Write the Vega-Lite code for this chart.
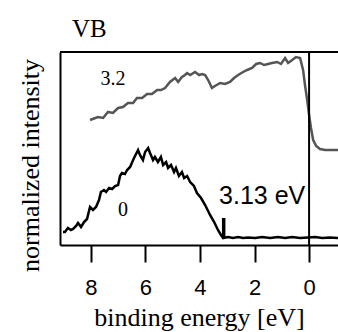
{
  "$schema": "https://vega.github.io/schema/vega-lite/v6.json",
  "width": 278,
  "height": 193,
  "autosize": {"type": "none"},
  "padding": {"left": 60, "top": 52, "right": 0, "bottom": 87},
  "background": "white",
  "config": {"view": {"stroke": null}},
  "title": {"text": "VB", "anchor": "start", "frame": "group", "dx": 12, "offset": 9, "font": "Liberation Serif", "fontSize": 25, "fontWeight": "normal", "color": "black"},
  "datasets": {
    "spectra": [
      {"series": "3.2", "energy": 8.03, "intensity": 1.25},
      {"series": "3.2", "energy": 7.74, "intensity": 1.28},
      {"series": "3.2", "energy": 7.55, "intensity": 1.27},
      {"series": "3.2", "energy": 7.37, "intensity": 1.33},
      {"series": "3.2", "energy": 7.19, "intensity": 1.32},
      {"series": "3.2", "energy": 7.0, "intensity": 1.37},
      {"series": "3.2", "energy": 6.82, "intensity": 1.38},
      {"series": "3.2", "energy": 6.64, "intensity": 1.42},
      {"series": "3.2", "energy": 6.45, "intensity": 1.42},
      {"series": "3.2", "energy": 6.31, "intensity": 1.47},
      {"series": "3.2", "energy": 6.12, "intensity": 1.47},
      {"series": "3.2", "energy": 5.94, "intensity": 1.51},
      {"series": "3.2", "energy": 5.76, "intensity": 1.51},
      {"series": "3.2", "energy": 5.57, "intensity": 1.55},
      {"series": "3.2", "energy": 5.43, "intensity": 1.55},
      {"series": "3.2", "energy": 5.28, "intensity": 1.57},
      {"series": "3.2", "energy": 5.1, "intensity": 1.63},
      {"series": "3.2", "energy": 4.91, "intensity": 1.67},
      {"series": "3.2", "energy": 4.8, "intensity": 1.63},
      {"series": "3.2", "energy": 4.66, "intensity": 1.68},
      {"series": "3.2", "energy": 4.55, "intensity": 1.7},
      {"series": "3.2", "energy": 4.47, "intensity": 1.72},
      {"series": "3.2", "energy": 4.36, "intensity": 1.7},
      {"series": "3.2", "energy": 4.18, "intensity": 1.73},
      {"series": "3.2", "energy": 4.03, "intensity": 1.7},
      {"series": "3.2", "energy": 3.92, "intensity": 1.71},
      {"series": "3.2", "energy": 3.81, "intensity": 1.7},
      {"series": "3.2", "energy": 3.7, "intensity": 1.65},
      {"series": "3.2", "energy": 3.56, "intensity": 1.57},
      {"series": "3.2", "energy": 3.45, "intensity": 1.59},
      {"series": "3.2", "energy": 3.26, "intensity": 1.62},
      {"series": "3.2", "energy": 3.08, "intensity": 1.61},
      {"series": "3.2", "energy": 2.9, "intensity": 1.63},
      {"series": "3.2", "energy": 2.75, "intensity": 1.67},
      {"series": "3.2", "energy": 2.6, "intensity": 1.7},
      {"series": "3.2", "energy": 2.42, "intensity": 1.73},
      {"series": "3.2", "energy": 2.27, "intensity": 1.75},
      {"series": "3.2", "energy": 2.09, "intensity": 1.77},
      {"series": "3.2", "energy": 1.94, "intensity": 1.81},
      {"series": "3.2", "energy": 1.8, "intensity": 1.82},
      {"series": "3.2", "energy": 1.65, "intensity": 1.8},
      {"series": "3.2", "energy": 1.5, "intensity": 1.81},
      {"series": "3.2", "energy": 1.36, "intensity": 1.82},
      {"series": "3.2", "energy": 1.17, "intensity": 1.83},
      {"series": "3.2", "energy": 1.03, "intensity": 1.81},
      {"series": "3.2", "energy": 0.88, "intensity": 1.87},
      {"series": "3.2", "energy": 0.77, "intensity": 1.82},
      {"series": "3.2", "energy": 0.62, "intensity": 1.85},
      {"series": "3.2", "energy": 0.48, "intensity": 1.88},
      {"series": "3.2", "energy": 0.33, "intensity": 1.87},
      {"series": "3.2", "energy": 0.22, "intensity": 1.75},
      {"series": "3.2", "energy": 0.15, "intensity": 1.6},
      {"series": "3.2", "energy": 0.07, "intensity": 1.45},
      {"series": "3.2", "energy": 0.0, "intensity": 1.3},
      {"series": "3.2", "energy": -0.07, "intensity": 1.17},
      {"series": "3.2", "energy": -0.15, "intensity": 1.05},
      {"series": "3.2", "energy": -0.26, "intensity": 0.99},
      {"series": "3.2", "energy": -0.4, "intensity": 0.96},
      {"series": "3.2", "energy": -0.59, "intensity": 0.95},
      {"series": "3.2", "energy": -0.77, "intensity": 0.95},
      {"series": "3.2", "energy": -1.06, "intensity": 0.95},
      {"series": "0", "energy": 9.02, "intensity": 0.13},
      {"series": "0", "energy": 8.95, "intensity": 0.13},
      {"series": "0", "energy": 8.84, "intensity": 0.17},
      {"series": "0", "energy": 8.73, "intensity": 0.15},
      {"series": "0", "energy": 8.65, "intensity": 0.16},
      {"series": "0", "energy": 8.54, "intensity": 0.19},
      {"series": "0", "energy": 8.47, "intensity": 0.22},
      {"series": "0", "energy": 8.36, "intensity": 0.18},
      {"series": "0", "energy": 8.25, "intensity": 0.23},
      {"series": "0", "energy": 8.14, "intensity": 0.26},
      {"series": "0", "energy": 8.03, "intensity": 0.38},
      {"series": "0", "energy": 7.92, "intensity": 0.35},
      {"series": "0", "energy": 7.81, "intensity": 0.38},
      {"series": "0", "energy": 7.7, "intensity": 0.45},
      {"series": "0", "energy": 7.63, "intensity": 0.53},
      {"series": "0", "energy": 7.52, "intensity": 0.55},
      {"series": "0", "energy": 7.44, "intensity": 0.53},
      {"series": "0", "energy": 7.33, "intensity": 0.57},
      {"series": "0", "energy": 7.22, "intensity": 0.56},
      {"series": "0", "energy": 7.11, "intensity": 0.59},
      {"series": "0", "energy": 7.0, "intensity": 0.6},
      {"series": "0", "energy": 6.93, "intensity": 0.69},
      {"series": "0", "energy": 6.86, "intensity": 0.72},
      {"series": "0", "energy": 6.75, "intensity": 0.71},
      {"series": "0", "energy": 6.67, "intensity": 0.75},
      {"series": "0", "energy": 6.56, "intensity": 0.78},
      {"series": "0", "energy": 6.45, "intensity": 0.85},
      {"series": "0", "energy": 6.38, "intensity": 0.89},
      {"series": "0", "energy": 6.27, "intensity": 0.95},
      {"series": "0", "energy": 6.2, "intensity": 0.9},
      {"series": "0", "energy": 6.09, "intensity": 0.85},
      {"series": "0", "energy": 6.01, "intensity": 0.93},
      {"series": "0", "energy": 5.9, "intensity": 0.97},
      {"series": "0", "energy": 5.83, "intensity": 0.92},
      {"series": "0", "energy": 5.72, "intensity": 0.85},
      {"series": "0", "energy": 5.65, "intensity": 0.88},
      {"series": "0", "energy": 5.54, "intensity": 0.83},
      {"series": "0", "energy": 5.43, "intensity": 0.88},
      {"series": "0", "energy": 5.35, "intensity": 0.8},
      {"series": "0", "energy": 5.24, "intensity": 0.83},
      {"series": "0", "energy": 5.17, "intensity": 0.77},
      {"series": "0", "energy": 5.06, "intensity": 0.8},
      {"series": "0", "energy": 4.95, "intensity": 0.73},
      {"series": "0", "energy": 4.88, "intensity": 0.77},
      {"series": "0", "energy": 4.77, "intensity": 0.69},
      {"series": "0", "energy": 4.66, "intensity": 0.73},
      {"series": "0", "energy": 4.58, "intensity": 0.67},
      {"series": "0", "energy": 4.47, "intensity": 0.69},
      {"series": "0", "energy": 4.36, "intensity": 0.63},
      {"series": "0", "energy": 4.22, "intensity": 0.59},
      {"series": "0", "energy": 4.11, "intensity": 0.52},
      {"series": "0", "energy": 3.96, "intensity": 0.47},
      {"series": "0", "energy": 3.81, "intensity": 0.4},
      {"series": "0", "energy": 3.63, "intensity": 0.3},
      {"series": "0", "energy": 3.48, "intensity": 0.23},
      {"series": "0", "energy": 3.34, "intensity": 0.15},
      {"series": "0", "energy": 3.23, "intensity": 0.1},
      {"series": "0", "energy": 3.15, "intensity": 0.07},
      {"series": "0", "energy": 2.97, "intensity": 0.08},
      {"series": "0", "energy": 2.79, "intensity": 0.07},
      {"series": "0", "energy": 2.6, "intensity": 0.08},
      {"series": "0", "energy": 2.42, "intensity": 0.07},
      {"series": "0", "energy": 2.24, "intensity": 0.075},
      {"series": "0", "energy": 1.98, "intensity": 0.07},
      {"series": "0", "energy": 1.72, "intensity": 0.08},
      {"series": "0", "energy": 1.43, "intensity": 0.07},
      {"series": "0", "energy": 1.14, "intensity": 0.08},
      {"series": "0", "energy": 0.88, "intensity": 0.07},
      {"series": "0", "energy": 0.62, "intensity": 0.08},
      {"series": "0", "energy": 0.33, "intensity": 0.07},
      {"series": "0", "energy": 0.04, "intensity": 0.075},
      {"series": "0", "energy": -0.22, "intensity": 0.08},
      {"series": "0", "energy": -0.48, "intensity": 0.07},
      {"series": "0", "energy": -0.77, "intensity": 0.075},
      {"series": "0", "energy": -1.06, "intensity": 0.07}
    ],
    "labels": [
      {"text": "3.2", "energy": 7.19, "intensity": 1.66, "kind": "serif"},
      {"text": "0", "energy": 6.82, "intensity": 0.35, "kind": "serif"},
      {"text": "3.13 eV", "energy": 1.72, "intensity": 0.49, "kind": "sans"}
    ],
    "marker": [
      {"energy": 3.13, "low": 0.07, "high": 0.27}
    ],
    "frame": [
      {"top": 1.93, "zero": 0}
    ]
  },
  "layer": [
    {
      "data": {"name": "spectra"},
      "mark": {"type": "line", "clip": true, "strokeWidth": 2.5, "interpolate": "linear"},
      "encoding": {
        "x": {"field": "energy", "type": "quantitative",
          "scale": {"domain": [9.13, -1.06], "nice": false, "zero": false},
          "axis": {"values": [8, 6, 4, 2, 0], "grid": false, "domain": true, "domainColor": "black", "domainWidth": 2,
            "ticks": true, "tickColor": "black", "tickWidth": 2, "tickSize": 17,
            "labelFont": "Liberation Sans", "labelFontSize": 22, "labelColor": "black", "labelPadding": 15,
            "title": "binding energy [eV]", "titleFont": "Liberation Serif", "titleFontSize": 26, "titleFontWeight": "normal", "titleColor": "black", "titlePadding": 6}},
        "y": {"field": "intensity", "type": "quantitative",
          "scale": {"domain": [0, 1.93], "nice": false, "zero": false},
          "axis": {"grid": false, "domain": true, "domainColor": "black", "domainWidth": 2, "ticks": false, "labels": false,
            "title": "normalized intensity", "titleFont": "Liberation Serif", "titleFontSize": 26, "titleFontWeight": "normal", "titleColor": "black", "titlePadding": 17, "titleY": 113}},
        "color": {"field": "series", "type": "nominal", "scale": {"domain": ["3.2", "0"], "range": ["#555555", "#000000"]}, "legend": null},
        "detail": {"field": "series"}
      }
    },
    {
      "data": {"name": "frame"},
      "mark": {"type": "rule", "color": "black", "strokeWidth": 2},
      "encoding": {"y": {"field": "top", "type": "quantitative"}}
    },
    {
      "data": {"name": "frame"},
      "mark": {"type": "rule", "color": "black", "strokeWidth": 2},
      "encoding": {"x": {"field": "zero", "type": "quantitative"}}
    },
    {
      "data": {"name": "marker"},
      "mark": {"type": "rule", "color": "black", "strokeWidth": 3.5},
      "encoding": {
        "x": {"field": "energy", "type": "quantitative"},
        "y": {"field": "low", "type": "quantitative"},
        "y2": {"field": "high"}
      }
    },
    {
      "data": {"name": "labels"},
      "transform": [{"filter": "datum.kind === 'serif'"}],
      "mark": {"type": "text", "font": "Liberation Serif", "fontSize": 20, "color": "black", "align": "center", "baseline": "middle"},
      "encoding": {
        "x": {"field": "energy", "type": "quantitative"},
        "y": {"field": "intensity", "type": "quantitative"},
        "text": {"field": "text"}
      }
    },
    {
      "data": {"name": "labels"},
      "transform": [{"filter": "datum.kind === 'sans'"}],
      "mark": {"type": "text", "font": "Liberation Sans", "fontSize": 25, "color": "black", "align": "center", "baseline": "middle"},
      "encoding": {
        "x": {"field": "energy", "type": "quantitative"},
        "y": {"field": "intensity", "type": "quantitative"},
        "text": {"field": "text"}
      }
    }
  ]
}
